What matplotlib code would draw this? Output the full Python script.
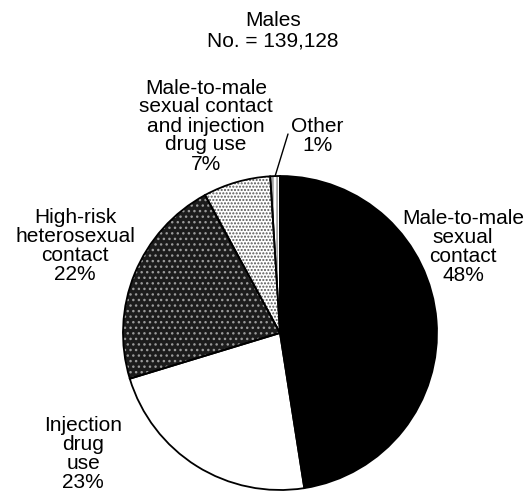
import matplotlib.pyplot as plt
import numpy as np

plt.rcParams['font.family'] = ['Liberation Sans', 'DejaVu Sans']

categories = ['Male-to-male\nsexual\ncontact', 'Injection\ndrug\nuse',
              'High-risk\nheterosexual\ncontact',
              'Male-to-male\nsexual contact\nand injection\ndrug use', 'Other']
values = [48, 23, 22, 7, 1]
faces = ['black', 'white', '#1c1c1c', 'white', 'white']
hatches = [None, None, '...', '.....', '||||']
hatch_cols = ['black', 'black', '#9a9a9a', '#555555', '#888888']

W, H = 530, 492
fig = plt.figure(figsize=(W / 100, H / 100), dpi=100, facecolor='w')
cx, cy, r = 280, 333, 157
ax = fig.add_axes([(cx - r) / W, (H - cy - r) / H, 2 * r / W, 2 * r / H])
ax.axis('off')

wedges, _ = ax.pie(values, startangle=90, counterclock=False, radius=1,
                   colors=faces, wedgeprops=dict(linewidth=0))
for w, h, c in zip(wedges, hatches, hatch_cols):
    if h:
        w.set_hatch(h)
        w.set_edgecolor(c)
# outlines
ax.pie(values, startangle=90, counterclock=False, radius=1,
       colors=['none'] * len(values),
       wedgeprops=dict(linewidth=1.3, edgecolor='black', fill=False))
ax.set_xlim(-1, 1)
ax.set_ylim(-1, 1)
ax.set_aspect('equal')

fs = 15
def px(x, y):
    return (x / W, 1 - y / H)

fig.text(*px(273, 31), 'Males\nNo. = 139,128', ha='center', va='center',
         fontsize=fs, linespacing=1.1)
label_pos = [(463, 247), (83, 454), (75, 246), (206, 126), (317, 136)]
for cat, v, pos in zip(categories, values, label_pos):
    fig.text(*px(*pos), '%s\n%d%%' % (cat, v), ha='center', va='center',
             fontsize=fs, linespacing=1.0)

# leader line for Other
ang = np.deg2rad(90 - 360 * (sum(values[:-1]) + values[-1] / 2) / sum(values))
ax.annotate('', xy=(np.cos(ang), np.sin(ang)), xycoords='data',
            xytext=px(288, 134), textcoords='figure fraction',
            arrowprops=dict(arrowstyle='-', color='black', lw=1,
                            shrinkA=0, shrinkB=0))

fig.savefig('out.png', dpi=100)
